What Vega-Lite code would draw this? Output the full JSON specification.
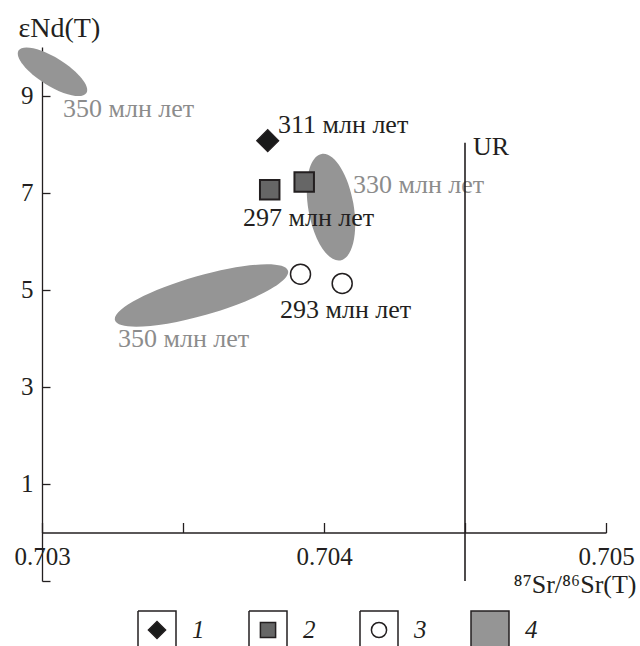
{
  "$schema": "https://vega.github.io/schema/vega-lite/v6.json",
  "width": 564,
  "height": 534,
  "autosize": {"type": "none"},
  "padding": {"left": 42, "top": 47, "right": 34, "bottom": 65},
  "background": "white",
  "config": {
    "view": {"stroke": null},
    "font": "Liberation Serif",
    "axis": {
      "grid": false,
      "domainColor": "#231f20",
      "tickColor": "#231f20",
      "domainWidth": 1.3,
      "tickWidth": 1.3,
      "labelFont": "Liberation Serif",
      "labelFontSize": 25,
      "labelColor": "#231f20",
      "titleFont": "Liberation Serif",
      "titleFontSize": 26,
      "titleFontWeight": "normal",
      "titleColor": "#231f20"
    },
    "legend": {
      "orient": "none",
      "legendX": 95,
      "legendY": 563,
      "direction": "horizontal",
      "columnPadding": 41,
      "labelOffset": 15,
      "padding": 0,
      "labelFont": "Liberation Serif",
      "labelFontStyle": "italic",
      "labelFontSize": 25,
      "labelColor": "#231f20",
      "symbolSize": 1444,
      "symbolOpacity": 1
    }
  },
  "datasets": {
    "fields": [
      {"id": "A", "type": "4", "x": 0.7030372, "y": 9.49},
      {"id": "B", "type": "4", "x": 0.7040248, "y": 6.70},
      {"id": "C", "type": "4", "x": 0.7035656, "y": 4.88}
    ],
    "points": [
      {"type": "1", "x": 0.7038004, "y": 8.07},
      {"type": "2", "x": 0.7038075, "y": 7.06},
      {"type": "2", "x": 0.7039298, "y": 7.22},
      {"type": "3", "x": 0.7039167, "y": 5.32},
      {"type": "3", "x": 0.7040645, "y": 5.13}
    ],
    "labels": [
      {"text": "350 млн лет", "kind": "field", "x": 0.7030745, "y": 8.56},
      {"text": "311 млн лет", "kind": "sample", "x": 0.7038369, "y": 8.23},
      {"text": "297 млн лет", "kind": "sample", "x": 0.7037128, "y": 6.31},
      {"text": "330 млн лет", "kind": "field", "x": 0.7041028, "y": 6.99},
      {"text": "293 млн лет", "kind": "sample", "x": 0.7038440, "y": 4.42},
      {"text": "350 млн лет", "kind": "field", "x": 0.7032695, "y": 3.82},
      {"text": "UR", "kind": "sample", "x": 0.7045284, "y": 7.78}
    ],
    "ur": [
      {"x": 0.7045, "y": 8.03, "y2": -1}
    ]
  },
  "layer": [
    {
      "data": {"values": []},
      "mark": {"type": "point", "filled": true, "opacity": 1, "stroke": "#231f20", "strokeWidth": 1.2},
      "encoding": {
        "x": {
          "field": "x", "type": "quantitative",
          "scale": {"domain": [0.703, 0.705], "zero": false, "nice": false},
          "axis": {
            "orient": "bottom", "offset": -48.5,
            "values": [0.703, 0.7035, 0.704, 0.7045, 0.705],
            "tickSize": -10, "labelPadding": 22,
            "labelFlush": false, "labelOverlap": false,
            "labelExpr": "(abs(datum.value - 0.7035) < 1e-7 || abs(datum.value - 0.7045) < 1e-7) ? '' : format(datum.value, '.3f')",
            "title": "⁸⁷Sr/⁸⁶Sr(T)",
            "titleX": 594, "titleY": 60, "titleAlign": "right", "titleBaseline": "alphabetic", "titleAngle": 0
          }
        },
        "y": {
          "field": "y", "type": "quantitative",
          "scale": {"domain": [-1, 10], "zero": false, "nice": false},
          "axis": {
            "orient": "left",
            "values": [-1, 1, 3, 5, 7, 9],
            "tickSize": -8, "labelPadding": 17,
            "labelFlush": false, "labelOverlap": false,
            "labelExpr": "datum.value < 0 ? '' : datum.label",
            "title": "εNd(T)",
            "titleFontSize": 28,
            "titleAngle": 0, "titleX": -24, "titleY": -11, "titleAlign": "left", "titleBaseline": "alphabetic"
          }
        },
        "fill": {
          "field": "type", "type": "nominal",
          "scale": {"domain": ["1", "2", "3", "4"], "range": ["#1a1a1a", "#666666", "#ffffff", "#959595"]},
          "legend": {"title": null, "encode": {"symbols": {"stroke": {"value": "#231f20"}, "strokeWidth": {"value": 1.2}}}}
        },
        "shape": {
          "field": "type", "type": "nominal",
          "scale": {
            "domain": ["1", "2", "3", "4"],
            "range": [
              "M -1 -1 L 1 -1 L 1 1 L -1 1 L -1 -1 L -1 1 L 1 1 L 1 -1 L -1 -1 M 0 -0.45 L 0.45 0 L 0 0.45 L -0.45 0 Z",
              "M -1 -1 L 1 -1 L 1 1 L -1 1 L -1 -1 L -1 1 L 1 1 L 1 -1 L -1 -1 M -0.4 -0.4 L 0.4 -0.4 L 0.4 0.4 L -0.4 0.4 Z",
              "M -1 -1 L 1 -1 L 1 1 L -1 1 L -1 -1 L -1 1 L 1 1 L 1 -1 L -1 -1 M -0.4 0 C -0.4 -0.221 -0.221 -0.4 0 -0.4 C 0.221 -0.4 0.4 -0.221 0.4 0 C 0.4 0.221 0.221 0.4 0 0.4 C -0.221 0.4 -0.4 0.221 -0.4 0 Z",
              "M -1 -1 L 1 -1 L 1 1 L -1 1 Z"
            ]
          },
          "legend": {"title": null, "encode": {"symbols": {"stroke": {"value": "#231f20"}, "strokeWidth": {"value": 1.2}}}}
        }
      }
    },
    {
      "data": {"name": "fields"},
      "transform": [{"filter": "datum.id == 'A'"}],
      "mark": {"type": "point", "shape": "M -1 0 C -1 -0.1933 -0.5523 -0.35 0 -0.35 C 0.5523 -0.35 1 -0.1933 1 0 C 1 0.1933 0.5523 0.35 0 0.35 C -0.5523 0.35 -1 0.1933 -1 0 Z", "size": 6400, "angle": 32, "filled": true, "opacity": 1, "fill": "#959595"},
      "encoding": {
        "x": {"field": "x", "type": "quantitative"},
        "y": {"field": "y", "type": "quantitative"}
      }
    },
    {
      "data": {"name": "fields"},
      "transform": [{"filter": "datum.id == 'B'"}],
      "mark": {"type": "point", "shape": "M -1 0 C -1 -0.232 -0.5523 -0.42 0 -0.42 C 0.5523 -0.42 1 -0.232 1 0 C 1 0.232 0.5523 0.42 0 0.42 C -0.5523 0.42 -1 0.232 -1 0 Z", "size": 11664, "angle": 80, "filled": true, "opacity": 1, "fill": "#959595"},
      "encoding": {
        "x": {"field": "x", "type": "quantitative"},
        "y": {"field": "y", "type": "quantitative"}
      }
    },
    {
      "data": {"name": "fields"},
      "transform": [{"filter": "datum.id == 'C'"}],
      "mark": {"type": "point", "shape": "M -1 0 C -1 -0.1215 -0.5523 -0.22 0 -0.22 C 0.5523 -0.22 1 -0.1215 1 0 C 1 0.1215 0.5523 0.22 0 0.22 C -0.5523 0.22 -1 0.1215 -1 0 Z", "size": 32400, "angle": 344, "filled": true, "opacity": 1, "fill": "#959595"},
      "encoding": {
        "x": {"field": "x", "type": "quantitative"},
        "y": {"field": "y", "type": "quantitative"}
      }
    },
    {
      "data": {"name": "points"},
      "transform": [{"filter": "datum.type == '1'"}],
      "mark": {"type": "point", "shape": "diamond", "size": 484, "filled": true, "opacity": 1, "fill": "#1a1a1a", "stroke": "#231f20", "strokeWidth": 1.2},
      "encoding": {
        "x": {"field": "x", "type": "quantitative"},
        "y": {"field": "y", "type": "quantitative"}
      }
    },
    {
      "data": {"name": "points"},
      "transform": [{"filter": "datum.type == '2'"}],
      "mark": {"type": "point", "shape": "square", "size": 380, "filled": true, "opacity": 1, "fill": "#666666", "stroke": "#231f20", "strokeWidth": 2},
      "encoding": {
        "x": {"field": "x", "type": "quantitative"},
        "y": {"field": "y", "type": "quantitative"}
      }
    },
    {
      "data": {"name": "points"},
      "transform": [{"filter": "datum.type == '3'"}],
      "mark": {"type": "point", "shape": "circle", "size": 400, "filled": true, "opacity": 1, "fill": "#ffffff", "stroke": "#231f20", "strokeWidth": 1.5},
      "encoding": {
        "x": {"field": "x", "type": "quantitative"},
        "y": {"field": "y", "type": "quantitative"}
      }
    },
    {
      "data": {"name": "labels"},
      "mark": {"type": "text", "align": "left", "baseline": "alphabetic", "font": "Liberation Serif", "fontSize": 26},
      "encoding": {
        "x": {"field": "x", "type": "quantitative"},
        "y": {"field": "y", "type": "quantitative"},
        "text": {"field": "text"},
        "color": {"field": "kind", "type": "nominal", "scale": {"domain": ["sample", "field"], "range": ["#231f20", "#8c8c8c"]}, "legend": null}
      }
    },
    {
      "data": {"name": "ur"},
      "mark": {"type": "rule", "color": "#231f20", "strokeWidth": 1.6},
      "encoding": {
        "x": {"field": "x", "type": "quantitative"},
        "y": {"field": "y", "type": "quantitative"},
        "y2": {"field": "y2"}
      }
    }
  ]
}
